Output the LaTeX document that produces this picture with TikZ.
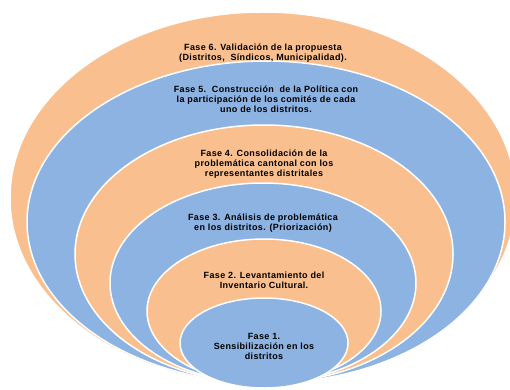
\documentclass[tikz,border=0pt]{standalone}
\usepackage{fontspec}
\setmainfont{Liberation Sans}[LetterSpace=4]
\usetikzlibrary{shapes.geometric,positioning}
\definecolor{peach}{HTML}{FABF8F}
\definecolor{skyblue}{HTML}{8DB3E2}

\begin{document}
\begin{tikzpicture}[x=1pt,y=1pt,node distance=22pt,
    ring/.style={ellipse,draw=white,line width=1.5pt,inner sep=0pt},
    orangering/.style={ring,fill=peach},
    bluering/.style={ring,fill=skyblue},
    phase/.style={align=center,font=\fontsize{9}{10}\selectfont\bfseries}]
    \clip (0,0) rectangle (510,389);
    \useasboundingbox (0,0) rectangle (510,389);
    \node[orangering, minimum width=506pt, minimum height=372pt] (e6) at (263,191) {};
    \node[bluering, minimum width=478pt, minimum height=322pt] (e5) at (266,167) {};
    \node[orangering, minimum width=378pt, minimum height=258pt] (e4) at (264,135) {};
    \node[bluering, minimum width=306pt, minimum height=200pt] (e3) at (263,106) {};
    \node[orangering, minimum width=234pt, minimum height=144pt] (e2) at (264,78) {};
    \node[bluering, minimum width=168pt, minimum height=90pt] (e1) at (264,46) {};
    \node[phase, below=29pt of e6.north] (t6) {Fase 6. Validación de la propuesta\\(Distritos,\ \ Síndicos, Municipalidad).};
    \node[phase, below=of e5.north] (t5) {Fase 5.\ \ Construcción\ \ de la Política con\\la participación de los comités de cada\\uno de los distritos.};
    \node[phase, below=of e4.north] (t4) {Fase 4. Consolidación de la\\problemática cantonal con los\\representantes distritales};
    \node[phase, below=28pt of e3.north] (t3) {Fase 3. Análisis de problemática\\en los distritos. (Priorización)};
    \node[phase, below=30pt of e2.north] (t2) {Fase 2. Levantamiento del\\Inventario Cultural.};
    \node[phase, below=33pt of e1.north] (t1) {Fase 1.\\Sensibilización en los\\distritos};
\end{tikzpicture}
\end{document}
